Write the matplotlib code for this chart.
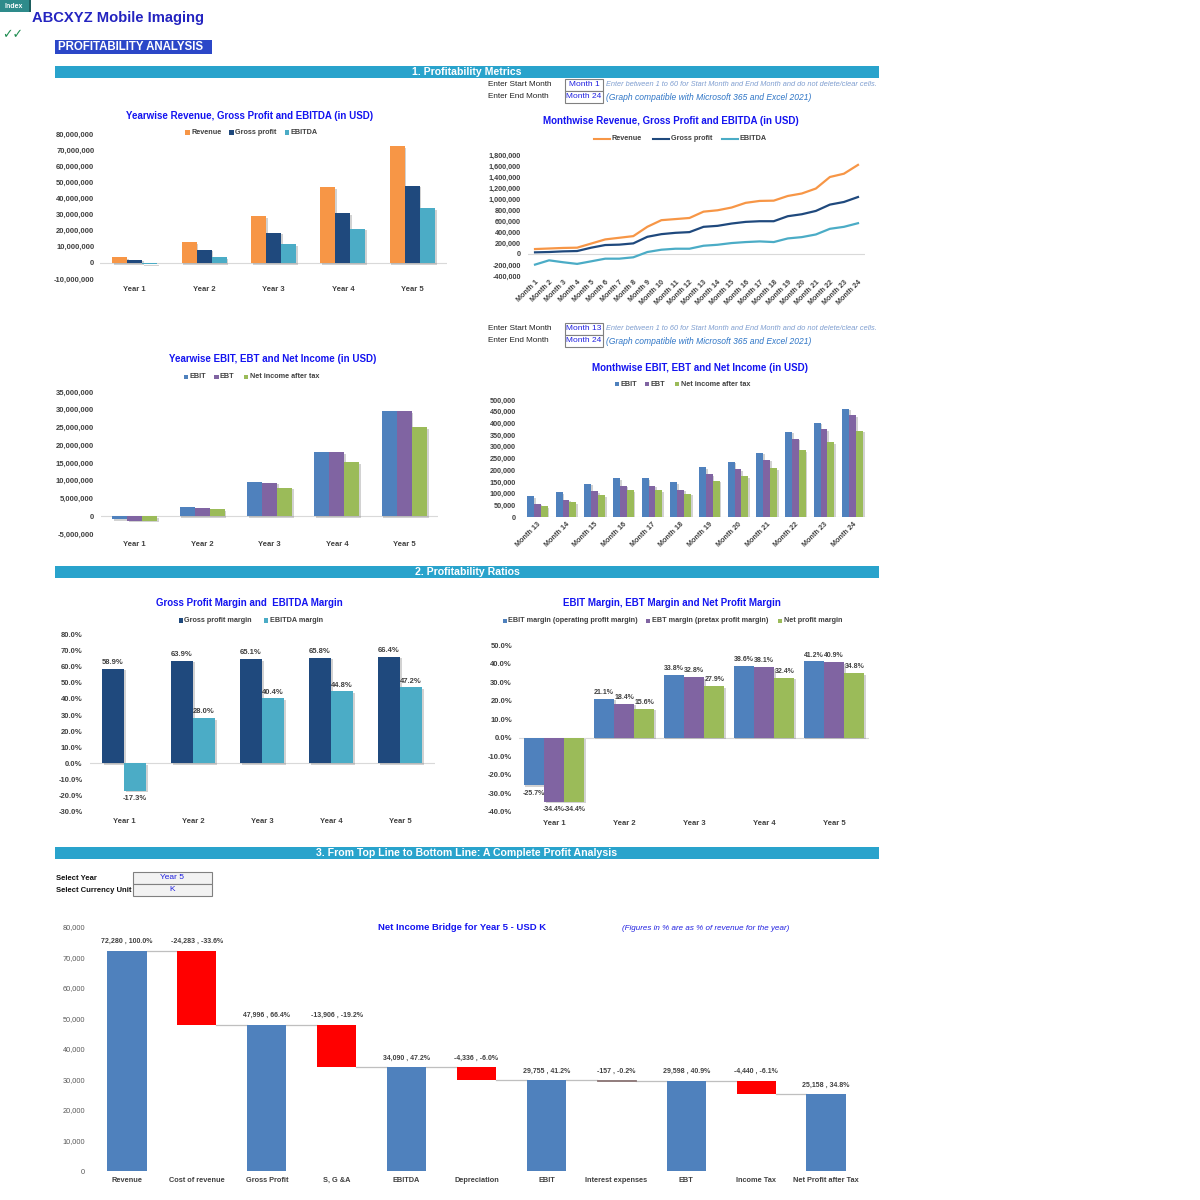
import matplotlib
matplotlib.use('Agg')
import matplotlib.pyplot as plt
from matplotlib.patches import Rectangle
from matplotlib.lines import Line2D
import matplotlib.patheffects as pe
import numpy as np

plt.rcParams['font.family'] = ['Liberation Sans', 'DejaVu Sans']

# ---------------- data ----------------
years = ['Year 1', 'Year 2', 'Year 3', 'Year 4', 'Year 5']
revenue_y = [3.5e6, 13.0e6, 28.8e6, 47.2e6, 72.28e6]
gross_profit_y = [2.06e6, 8.3e6, 18.75e6, 31.06e6, 47.996e6]
ebitda_y = [-0.6e6, 3.64e6, 11.64e6, 21.15e6, 34.09e6]
ebit_y = [-0.9e6, 2.74e6, 9.73e6, 18.2e6, 29.755e6]
ebt_y = [-1.2e6, 2.39e6, 9.45e6, 17.98e6, 29.598e6]
net_y = [-1.2e6, 2.03e6, 8.04e6, 15.3e6, 25.158e6]

months_a = ['Month %d' % i for i in range(1, 25)]
revenue_m = [90e3, 100e3, 110e3, 115e3, 190e3, 265e3, 295e3, 325e3, 495e3, 615e3, 635e3, 655e3,
             770e3, 795e3, 845e3, 930e3, 965e3, 970e3, 1055e3, 1100e3, 1190e3, 1400e3, 1460e3, 1620e3]
gross_profit_m = [30e3, 36e3, 48e3, 54e3, 115e3, 163e3, 170e3, 193e3, 313e3, 361e3, 385e3, 398e3,
                  494e3, 512e3, 554e3, 584e3, 596e3, 596e3, 687e3, 723e3, 783e3, 898e3, 946e3, 1036e3]
ebitda_m = [-193e3, -115e3, -150e3, -180e3, -133e3, -85e3, -85e3, -60e3, 36e3, 78e3, 96e3, 96e3,
            150e3, 168e3, 199e3, 217e3, 229e3, 217e3, 283e3, 307e3, 355e3, 458e3, 494e3, 560e3]

months_b = ['Month %d' % i for i in range(13, 25)]
ebit_m = [88e3, 105e3, 142e3, 165e3, 165e3, 148e3, 214e3, 236e3, 275e3, 365e3, 403e3, 463e3]
ebt_m = [57e3, 74e3, 111e3, 134e3, 134e3, 117e3, 182e3, 205e3, 245e3, 335e3, 375e3, 434e3]
net_m = [47e3, 63e3, 94e3, 114e3, 114e3, 100e3, 155e3, 174e3, 208e3, 285e3, 319e3, 369e3]

gp_margin = [58.9, 63.9, 65.1, 65.8, 66.4]
ebitda_margin = [-17.3, 28.0, 40.4, 44.8, 47.2]
ebit_margin = [-25.7, 21.1, 33.8, 38.6, 41.2]
ebt_margin = [-34.4, 18.4, 32.8, 38.1, 40.9]
net_margin = [-34.4, 15.6, 27.9, 32.4, 34.8]

wf_labels = ['Revenue', 'Cost of revenue', 'Gross Profit', 'S, G &A', 'EBITDA', 'Depreciation',
             'EBIT', 'Interest expenses', 'EBT', 'Income Tax', 'Net Profit after Tax']
wf_values = [72280, -24283, 47996, -13906, 34090, -4336, 29755, -157, 29598, -4440, 25158]
wf_pct = [100.0, -33.6, 66.4, -19.2, 47.2, -6.0, 41.2, -0.2, 40.9, -6.1, 34.8]
wf_total = [True, False, True, False, True, False, True, False, True, False, True]

# ---------------- colours ----------------
C_REV = '#F79646'
C_GP = '#1F497D'
C_EBITDA = '#4BACC6'
C_EBIT = '#4F81BD'
C_EBT = '#8064A2'
C_NET = '#9BBB59'
C_RED = '#FF0000'
C_TITLE = '#1414F0'
C_TICK = '#404040'
C_SECTION = '#29A3CC'

W = H = 1200
fig = plt.figure(figsize=(12, 12), dpi=100)
fig.patch.set_facecolor('white')

SHADOW = [pe.SimplePatchShadow(offset=(1.2, -1.2), shadow_rgbFace='#7F7F7F', alpha=0.35), pe.Normal()]


def fx(x):
    return x / W


def fy(y):
    return 1 - y / H


def ftext(x, y, s, **kw):
    kw.setdefault('va', 'center')
    fig.text(fx(x), fy(y), s, **kw)


def frect(x0, y0, x1, y1, **kw):
    fig.add_artist(Rectangle((fx(x0), fy(y1)), (x1 - x0) / W, (y1 - y0) / H,
                             transform=fig.transFigure, **kw))


def add_ax(x0, y0, x1, y1):
    ax = fig.add_axes([fx(x0), fy(y1), (x1 - x0) / W, (y1 - y0) / H])
    for s in ax.spines.values():
        s.set_visible(False)
    ax.tick_params(length=0, labelsize=5.5, colors=C_TICK)
    ax.patch.set_alpha(0)
    return ax


def style_ticks(ax, fs=5.5, bold=True, color=C_TICK):
    for lab in ax.get_xticklabels() + ax.get_yticklabels():
        lab.set_fontweight('bold' if bold else 'normal')
        lab.set_fontsize(fs)
        lab.set_color(color)


def grouped(ax, cats, series, colors, group_w):
    n = len(series)
    bw = group_w / n
    x = np.arange(len(cats))
    pos = []
    for i, (vals, c) in enumerate(zip(series, colors)):
        p = x - group_w / 2 + bw * (i + 0.5)
        bars = ax.bar(p, vals, bw, color=c, linewidth=0, zorder=3)
        for b in bars:
            b.set_path_effects(SHADOW)
        pos.append(p)
    ax.set_xlim(-0.5, len(cats) - 0.5)
    ax.set_xticks(x)
    ax.set_xticklabels(cats)
    ax.axhline(0, color='#D9D9D9', lw=0.8, zorder=2)
    return pos


def legend_sq(items, y, fs=5.2):
    for x, label, color in items:
        frect(x - 2.2, y - 2.2, x + 2.2, y + 2.2, facecolor=color, lw=0)
        ftext(x + 3.5, y, label, fontsize=fs, fontweight='bold', color=C_TICK, ha='left')


def legend_line(items, y, fs=5.2):
    for x0, x1, label, color in items:
        fig.add_artist(Line2D([fx(x0), fx(x1)], [fy(y), fy(y)], transform=fig.transFigure,
                              color=color, lw=1.5))
        ftext(x1 + 2, y, label, fontsize=fs, fontweight='bold', color=C_TICK, ha='left')


def title(x, y, s, fs=7.0):
    ftext(x, y, s, fontsize=fs, fontweight='bold', color=C_TITLE, ha='center')


# ---------------- header ----------------
frect(0, 0, 30, 12, facecolor='#2E8B8B', lw=0)
frect(29, 0, 31, 12, facecolor='#1D5E5E', lw=0)
ftext(14, 6, 'Index', fontsize=5, fontweight='bold', color='white', ha='center')
ftext(32, 18, 'ABCXYZ Mobile Imaging', fontsize=10.6, fontweight='bold', color='#2424C0', ha='left')
ftext(2, 35, '\u2713\u2713', fontsize=9, color='#1E8C50', ha='left', family=['DejaVu Sans'])
frect(55, 40, 212, 54, facecolor='#2B47C8', lw=0)
ftext(58, 47.5, 'PROFITABILITY ANALYSIS', fontsize=8.3, fontweight='bold', color='white', ha='left')

for (y0, y1, s) in [(66, 78, '1. Profitability Metrics'), (566, 578, '2. Profitability Ratios'),
                    (847, 859, '3. From Top Line to Bottom Line: A Complete Profit Analysis')]:
    frect(55, y0, 879, y1, facecolor=C_SECTION, lw=0)
    ftext(467, (y0 + y1) / 2, s, fontsize=7.6, fontweight='bold', color='white', ha='center')


def inputs(y, start_label, end_label):
    ftext(488, y, 'Enter Start Month', fontsize=5.9, color='#222222', ha='left')
    ftext(488, y + 12, 'Enter End Month', fontsize=5.9, color='#222222', ha='left')
    frect(565, y - 6, 603, y + 6, facecolor='white', edgecolor='#808080', lw=0.8)
    frect(565, y + 6, 603, y + 18, facecolor='white', edgecolor='#808080', lw=0.8)
    ftext(584, y - 0.5, start_label, fontsize=6.0, color='#2020E0', ha='center')
    ftext(584, y + 11.5, end_label, fontsize=6.0, color='#2020E0', ha='center')
    ftext(606, y, 'Enter between 1 to 60 for Start Month and End Month and do not delete/clear cells.',
          fontsize=5.3, style='italic', color='#7F9ED0', ha='left')
    ftext(606, y + 12, '(Graph compatible with Microsoft 365 and Excel 2021)',
          fontsize=6.15, style='italic', color='#2E75C6', ha='left')


inputs(85, 'Month 1', 'Month 24')
inputs(329, 'Month 13', 'Month 24')

# ---------------- chart 1: yearwise revenue ----------------
title(250, 116, 'Yearwise Revenue, Gross Profit and EBITDA (in USD)')
legend_sq([(187.5, 'Revenue', C_REV), (231.5, 'Gross profit', C_GP), (287, 'EBITDA', C_EBITDA)], 132.5)
ax = add_ax(100, 134, 447, 279)
grouped(ax, years, [revenue_y, gross_profit_y, ebitda_y], [C_REV, C_GP, C_EBITDA], 0.65)
ax.set_ylim(-10e6, 80e6)
ax.set_yticks(np.arange(-10e6, 80e6 + 1, 10e6))
ax.set_yticklabels(['{:,.0f}'.format(v) for v in ax.get_yticks()])
ax.tick_params(axis='y', pad=4)
ax.tick_params(axis='x', pad=5)
style_ticks(ax)

# ---------------- chart 2: monthly lines ----------------
title(671, 121, 'Monthwise Revenue, Gross Profit and EBITDA (in USD)')
legend_line([(594, 610, 'Revenue', C_REV), (653, 669, 'Gross profit', C_GP),
             (722, 738, 'EBITDA', C_EBITDA)], 138.5)
ax = add_ax(528, 155, 865, 276)
xm = np.arange(len(months_a))
ax.plot(xm, revenue_m, color=C_REV, lw=1.6, zorder=3)
ax.plot(xm, gross_profit_m, color=C_GP, lw=1.6, zorder=3)
ax.plot(xm, ebitda_m, color=C_EBITDA, lw=1.6, zorder=3)
ax.axhline(0, color='#D9D9D9', lw=0.8, zorder=2)
ax.set_xlim(-0.5, len(months_a) - 0.5)
ax.set_ylim(-400e3, 1800e3)
ax.set_yticks(np.arange(-400e3, 1800e3 + 1, 200e3))
ax.set_yticklabels(['{:,.0f}'.format(v) for v in ax.get_yticks()])
ax.set_xticks(xm)
ax.set_xticklabels(months_a, rotation=45, ha='right', va='top', rotation_mode='anchor')
ax.tick_params(axis='y', pad=5)
ax.tick_params(axis='x', pad=2)
style_ticks(ax, fs=5.2)

# ---------------- chart 3: yearwise EBIT ----------------
title(273, 359, 'Yearwise EBIT, EBT and Net Income (in USD)')
legend_sq([(186, 'EBIT', C_EBIT), (216.5, 'EBT', C_EBT), (246, 'Net income after tax', C_NET)], 377)
ax = add_ax(101, 392, 438, 534)
grouped(ax, years, [ebit_y, ebt_y, net_y], [C_EBIT, C_EBT, C_NET], 0.67)
ax.set_ylim(-5e6, 35e6)
ax.set_yticks(np.arange(-5e6, 35e6 + 1, 5e6))
ax.set_yticklabels(['{:,.0f}'.format(v) for v in ax.get_yticks()])
ax.tick_params(axis='y', pad=5)
ax.tick_params(axis='x', pad=5)
style_ticks(ax)

# ---------------- chart 4: monthly EBIT ----------------
title(700, 368, 'Monthwise EBIT, EBT and Net Income (in USD)')
legend_sq([(617, 'EBIT', C_EBIT), (647, 'EBT', C_EBT), (677, 'Net income after tax', C_NET)], 384)
ax = add_ax(523, 400, 867, 517)
grouped(ax, months_b, [ebit_m, ebt_m, net_m], [C_EBIT, C_EBT, C_NET], 0.73)
ax.set_ylim(0, 500e3)
ax.set_yticks(np.arange(0, 500e3 + 1, 50e3))
ax.set_yticklabels(['{:,.0f}'.format(v) for v in ax.get_yticks()])
ax.set_xticklabels(months_b, rotation=45, ha='right', va='top', rotation_mode='anchor')
ax.tick_params(axis='y', pad=5)
ax.tick_params(axis='x', pad=3)
style_ticks(ax, fs=5.2)

# ---------------- chart 5: GP margin ----------------
title(249, 603, 'Gross Profit Margin and  EBITDA Margin')
legend_sq([(181, 'Gross profit margin', C_GP), (266, 'EBITDA margin', C_EBITDA)], 620.5)
ax = add_ax(89.5, 635, 434.5, 811)
pos = grouped(ax, years, [gp_margin, ebitda_margin], [C_GP, C_EBITDA], 0.64)
ax.set_ylim(-30, 80)
ax.set_yticks(np.arange(-30, 81, 10))
ax.set_yticklabels(['{:.1f}%'.format(v) for v in ax.get_yticks()])
for p, vals in zip(pos, [gp_margin, ebitda_margin]):
    for xx, v in zip(p, vals):
        ax.annotate('{:.1f}%'.format(v), (xx, v), xytext=(0, 2 if v >= 0 else -3),
                    textcoords='offset points', ha='center', va='bottom' if v >= 0 else 'top',
                    fontsize=5.5, fontweight='bold', color=C_TICK)
ax.tick_params(axis='y', pad=5)
ax.tick_params(axis='x', pad=5)
style_ticks(ax)

# ---------------- chart 6: EBIT margins ----------------
title(672, 603, 'EBIT Margin, EBT Margin and Net Profit Margin')
legend_sq([(505, 'EBIT margin (operating profit margin)', C_EBIT),
           (648, 'EBT margin (pretax profit margin)', C_EBT),
           (780, 'Net profit margin', C_NET)], 621)
ax = add_ax(519, 645, 869, 812)
pos = grouped(ax, years, [ebit_margin, ebt_margin, net_margin], [C_EBIT, C_EBT, C_NET], 0.87)
ax.set_ylim(-40, 50)
ax.set_yticks(np.arange(-40, 51, 10))
ax.set_yticklabels(['{:.1f}%'.format(v) for v in ax.get_yticks()])
for p, vals in zip(pos, [ebit_margin, ebt_margin, net_margin]):
    for xx, v in zip(p, vals):
        ax.annotate('{:.1f}%'.format(v), (xx, v), xytext=(0, 2 if v >= 0 else -3),
                    textcoords='offset points', ha='center', va='bottom' if v >= 0 else 'top',
                    fontsize=5, fontweight='bold', color=C_TICK)
ax.tick_params(axis='y', pad=5)
ax.tick_params(axis='x', pad=6)
style_ticks(ax)

# ---------------- section 3 selectors ----------------
ftext(56, 878, 'Select Year', fontsize=5.5, fontweight='bold', color='#111111', ha='left')
ftext(56, 890, 'Select Currency Unit', fontsize=5.5, fontweight='bold', color='#111111', ha='left')
frect(133, 871.5, 212, 884, facecolor='#F2F2F2', edgecolor='#808080', lw=0.8)
frect(133, 884, 212, 896, facecolor='#F2F2F2', edgecolor='#808080', lw=0.8)
ftext(172, 877.5, 'Year 5', fontsize=6, color='#2020E0', ha='center')
ftext(172, 889.5, 'K', fontsize=6, color='#2020E0', ha='center')

# ---------------- waterfall ----------------
title(462, 927, 'Net Income Bridge for Year 5 - USD K', fs=6.8)
ftext(706, 929, '(Figures in % are as % of revenue for the year)', fontsize=5.8, style='italic',
      color='#2020E0', ha='center')
ax = add_ax(92, 927, 861, 1171)
bw = 0.56
level = 0
for i, (v, p, tot) in enumerate(zip(wf_values, wf_pct, wf_total)):
    if tot:
        ax.bar(i, v, bw, bottom=0, color=C_EBIT, linewidth=0, zorder=3)
        top = v
        level = v
    else:
        top = level
        small = abs(v) < 1000
        ax.bar(i, -v, bw, bottom=level + v, color=C_RED, edgecolor='#7F7F7F' if small else C_RED,
               linewidth=0.6 if small else 0, zorder=3)
        level = level + v
    ax.annotate('{:,} , {:.1f}%'.format(v, p), (i, top), xytext=(0, 4), textcoords='offset points',
                ha='center', va='bottom', fontsize=5, fontweight='bold', color=C_TICK)
    if i < len(wf_values) - 1:
        ax.plot([i + bw / 2, i + 1 - bw / 2], [level, level], color='#BFBFBF', lw=0.9, zorder=2)
ax.set_xlim(-0.5, len(wf_values) - 0.5)
ax.set_ylim(0, 80000)
ax.set_yticks(np.arange(0, 80001, 10000))
ax.set_yticklabels(['{:,.0f}'.format(v) for v in ax.get_yticks()])
ax.set_xticks(np.arange(len(wf_labels)))
ax.set_xticklabels(wf_labels)
ax.tick_params(axis='y', pad=5)
ax.tick_params(axis='x', pad=4)
style_ticks(ax, fs=5.3)
for lab in ax.get_yticklabels():
    lab.set_fontweight('normal')
    lab.set_color('#595959')

fig.savefig('out.png', dpi=100)
